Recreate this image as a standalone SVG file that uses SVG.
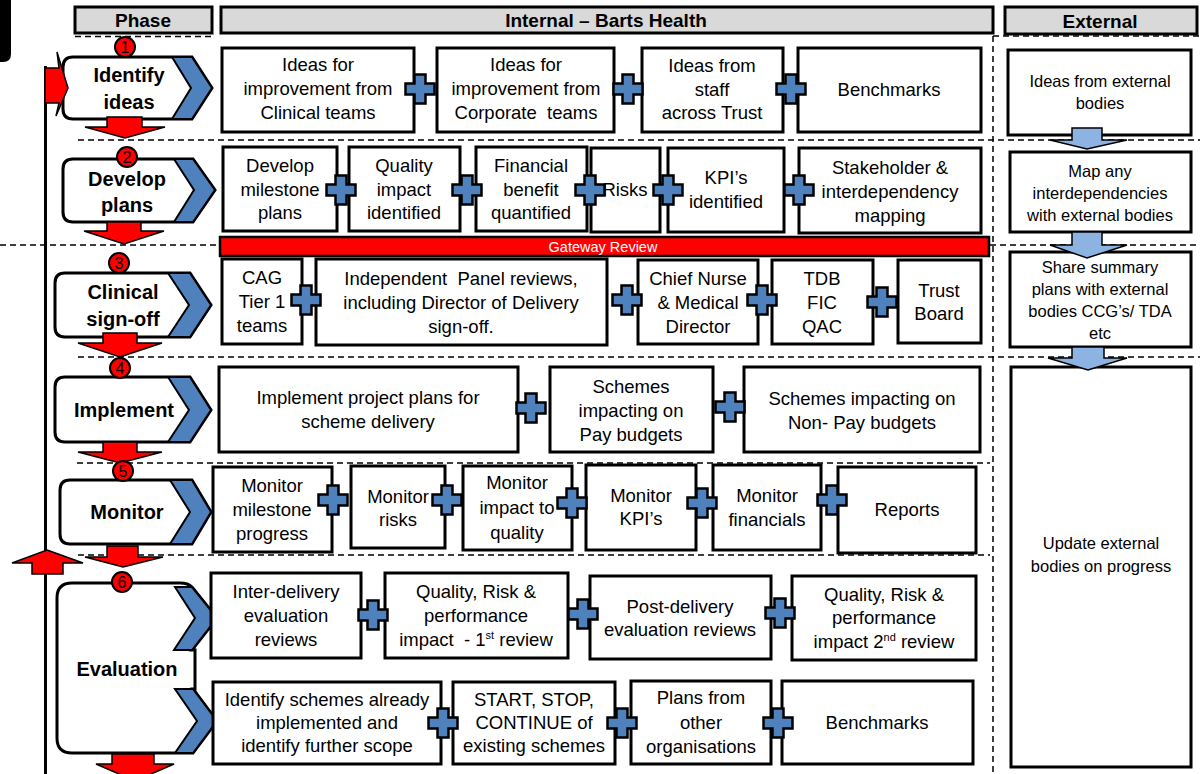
<svg xmlns="http://www.w3.org/2000/svg" width="1200" height="774" viewBox="0 0 1200 774">
<style>
.bg{fill:#fff}
.box{fill:#fff;stroke:#000;stroke-width:3}
.hdr{fill:#d9d9d9;stroke:#000;stroke-width:3}
.t{font-family:"Liberation Sans",Arial,sans-serif;font-size:18.5px;text-anchor:middle;fill:#000;white-space:pre}
.ext{font-size:16.5px}
.ph{font-weight:bold;font-size:20px}
.hd{font-weight:bold;font-size:19px}
.num{font-size:16px}
.gw{font-size:14.5px;fill:#fff}
.dash{stroke:#000;stroke-width:1.5;stroke-dasharray:6 4;fill:none}
.chev{fill:#4f81bd;stroke:#000;stroke-width:2;stroke-linejoin:miter}
.pbox{fill:#fff;stroke:#000;stroke-width:3}
.red{fill:#ff0000;stroke:#000;stroke-width:1.5}
.blue{fill:#8db3e2;stroke:#000;stroke-width:1.5}
.circ{fill:#ff0000;stroke:#000;stroke-width:2}
.sup{font-size:11px}
</style>
<defs>
<path id="plus" d="M-5.5,-14.5 H5.5 V-5.5 H14.5 V5.5 H5.5 V14.5 H-5.5 V5.5 H-14.5 V-5.5 H-5.5 Z" fill="#4f81bd" stroke="#000" stroke-width="2.5"/>
</defs>
<rect class="bg" x="0" y="0" width="1200" height="774"/>
<path d="M0,0 H11 V54 Q11,62 3,62 H0 Z" fill="#000"/>

<g id="grid">
<line class="dash" x1="75" y1="36.5" x2="215" y2="36.5"/>
<line class="dash" x1="993" y1="36" x2="1200" y2="36"/>
<line class="dash" x1="78" y1="140" x2="1200" y2="140"/>
<line class="dash" x1="0" y1="245" x2="1200" y2="245"/>
<line class="dash" x1="78" y1="357" x2="1200" y2="357"/>
<line class="dash" x1="77" y1="463" x2="990" y2="463"/>
<line class="dash" x1="78" y1="555" x2="990" y2="555"/>
<line class="dash" x1="993" y1="36" x2="993" y2="774"/>
<line x1="45.5" y1="66" x2="45.5" y2="774" stroke="#000" stroke-width="3"/>
</g>

<g id="headers">
<rect class="hdr" x="75" y="7" width="137" height="26"/>
<text class="t hd" x="143" y="27">Phase</text>
<rect class="hdr" x="221" y="7" width="772" height="26"/>
<text class="t hd" x="606" y="27">Internal – Barts Health</text>
<rect class="hdr" x="1005" y="7" width="192" height="27"/>
<text class="t hd" x="1100" y="28">External</text>
</g>

<g id="phase-identify">
<path class="pbox" d="M73,57 H192 L212,88 L192,119 H73 Q63,119 63,109 V67 Q63,57 73,57 Z"/>
<path class="chev" d="M172,57 H192 L212,88 L192,119 H172 L191,88 Z"/>
<text class="t ph" x="129" y="82">Identify</text>
<text class="t ph" x="129" y="109">ideas</text>
</g>
<g id="phase-develop">
<path class="pbox" d="M73,159 H193 L215,190 L193,222 H73 Q63,222 63,212 V169 Q63,159 73,159 Z"/>
<path class="chev" d="M174,159 H193 L215,190 L193,222 H174 L194,190 Z"/>
<text class="t ph" x="127" y="186">Develop</text>
<text class="t ph" x="127" y="212">plans</text>
</g>
<g id="phase-clinical">
<path class="pbox" d="M65,273 H190 L211,305 L190,337 H65 Q55,337 55,327 V283 Q55,273 65,273 Z"/>
<path class="chev" d="M168,273 H190 L211,305 L190,337 H168 L189,305 Z"/>
<text class="t ph" x="123" y="299">Clinical</text>
<text class="t ph" x="123" y="326">sign-off</text>
</g>
<g id="phase-implement">
<path class="pbox" d="M65,377 H190 L211,410 L190,442 H65 Q55,442 55,432 V387 Q55,377 65,377 Z"/>
<path class="chev" d="M168,377 H190 L211,410 L190,442 H168 L189,410 Z"/>
<text class="t ph" x="124" y="417">Implement</text>
</g>
<g id="phase-monitor">
<path class="pbox" d="M70,480 H192 L211,512 L192,544 H70 Q60,544 60,534 V490 Q60,480 70,480 Z"/>
<path class="chev" d="M170,480 H192 L211,512 L192,544 H170 L190,512 Z"/>
<text class="t ph" x="127" y="519">Monitor</text>
</g>
<g id="phase-evaluation">
<path class="pbox" d="M72,583 H180 Q188,583 192,587 L217,618 L192,650 H195 V689 H193 L217,721 L193,753 H72 Q57,753 57,738 V598 Q57,583 72,583 Z"/>
<path class="chev" d="M175,587 H192 L217,618 L192,650 H174 L195,618 Z"/>
<path class="chev" d="M175,689 H193 L217,721 L193,753 H175 L197,721 Z"/>
<text class="t ph" x="127" y="676">Evaluation</text>
</g>

<g id="connectors">
<polygon class="red" points="45,68 59,68 57,52 68,88 56,116 59,103 45,103"/>
<polygon class="red" points="47,550 83,563 63,563 63,574 32,574 32,563 12,563"/>
<polygon class="red" points="107,117 142,117 142,127 165,127 125,138 85,127 107,127"/>
<polygon class="red" points="107,222 141,222 141,231 164,231 124,244 84,231 107,231"/>
<polygon class="red" points="103,333 137,333 137,343 162,343 120,357 78,343 103,343"/>
<polygon class="red" points="103,442 137,442 137,452 162,452 120,463 78,452 103,452"/>
<polygon class="red" points="107,546 138,546 138,557 163,557 123,567 85,557 107,557"/>
<polygon class="red" points="112,754 154,754 154,764 174,764 135,781 96,764 112,764"/>
</g>

<g id="steps">
<circle class="circ" cx="125" cy="47" r="10"/><text class="t num" x="125" y="52.5">1</text>
<circle class="circ" cx="127" cy="157" r="10"/><text class="t num" x="127" y="162.5">2</text>
<circle class="circ" cx="119" cy="263" r="10"/><text class="t num" x="119" y="268.5">3</text>
<circle class="circ" cx="120" cy="368" r="10"/><text class="t num" x="120" y="373.5">4</text>
<circle class="circ" cx="123" cy="471" r="10"/><text class="t num" x="123" y="476.5">5</text>
<circle class="circ" cx="122" cy="582" r="10"/><text class="t num" x="122" y="587.5">6</text>
</g>

<g id="n-ideas-clinical"><rect class="box" x="222" y="48" width="192" height="84"/>
<text class="t" x="318" y="71">Ideas for</text><text class="t" x="318" y="95">improvement from</text><text class="t" x="318" y="119">Clinical teams</text></g>
<g id="n-ideas-corporate"><rect class="box" x="437" y="48" width="177" height="84"/>
<text class="t" x="526" y="71">Ideas for</text><text class="t" x="526" y="95">improvement from</text><text class="t" x="526" y="119">Corporate  teams</text></g>
<g id="n-ideas-staff"><rect class="box" x="642" y="48" width="141" height="84"/>
<text class="t" x="712" y="72">Ideas from</text><text class="t" x="712" y="96">staff</text><text class="t" x="712" y="119">across Trust</text></g>
<g id="n-benchmarks1"><rect class="box" x="798" y="48" width="183" height="84"/>
<text class="t" x="889" y="96">Benchmarks</text></g>

<g id="n-milestone"><rect class="box" x="223" y="147" width="114" height="84"/>
<text class="t" x="280" y="172">Develop</text><text class="t" x="280" y="196">milestone</text><text class="t" x="280" y="219">plans</text></g>
<g id="n-quality"><rect class="box" x="349" y="147" width="111" height="84"/>
<text class="t" x="404" y="172">Quality</text><text class="t" x="404" y="196">impact</text><text class="t" x="404" y="219">identified</text></g>
<g id="n-financial"><rect class="box" x="476" y="147" width="111" height="84"/>
<text class="t" x="531" y="172">Financial</text><text class="t" x="531" y="196">benefit</text><text class="t" x="531" y="219">quantified</text></g>
<g id="n-risks"><rect class="box" x="591" y="148" width="69" height="84"/>
<text class="t" x="625" y="196">Risks</text></g>
<g id="n-kpis"><rect class="box" x="668" y="148" width="116" height="84"/>
<text class="t" x="726" y="184">KPI’s</text><text class="t" x="726" y="208">identified</text></g>
<g id="n-stakeholder"><rect class="box" x="799" y="148" width="182" height="85"/>
<text class="t" x="890" y="174">Stakeholder &amp;</text><text class="t" x="890" y="198">interdependency</text><text class="t" x="890" y="222">mapping</text></g>

<g id="n-gateway"><rect x="220" y="237" width="769" height="19" fill="#ff0000" stroke="#000" stroke-width="2.5"/>
<text class="t gw" x="603" y="251.5">Gateway Review</text></g>

<g id="n-cag"><rect class="box" x="222" y="259" width="80" height="85"/>
<text class="t" x="262" y="284">CAG</text><text class="t" x="262" y="308">Tier 1</text><text class="t" x="262" y="332">teams</text></g>
<g id="n-panel"><rect class="box" x="316" y="259" width="291" height="86"/>
<text class="t" x="461" y="285">Independent  Panel reviews,</text><text class="t" x="461" y="309">including Director of Delivery</text><text class="t" x="461" y="333">sign-off.</text></g>
<g id="n-chiefnurse"><rect class="box" x="638" y="260" width="120" height="84"/>
<text class="t" x="698" y="285">Chief Nurse</text><text class="t" x="698" y="309">&amp; Medical</text><text class="t" x="698" y="333">Director</text></g>
<g id="n-tdb"><rect class="box" x="772" y="260" width="101" height="84"/>
<text class="t" x="822" y="285">TDB</text><text class="t" x="822" y="309">FIC</text><text class="t" x="822" y="333">QAC</text></g>
<g id="n-board"><rect class="box" x="898" y="260" width="83" height="83"/>
<text class="t" x="939" y="297">Trust</text><text class="t" x="939" y="320">Board</text></g>

<g id="n-implement"><rect class="box" x="219" y="367" width="299" height="85"/>
<text class="t" x="368" y="404">Implement project plans for</text><text class="t" x="368" y="428">scheme delivery</text></g>
<g id="n-pay"><rect class="box" x="550" y="367" width="163" height="85"/>
<text class="t" x="631" y="393">Schemes</text><text class="t" x="631" y="417">impacting on</text><text class="t" x="631" y="441">Pay budgets</text></g>
<g id="n-nonpay"><rect class="box" x="744" y="367" width="236" height="85"/>
<text class="t" x="862" y="405">Schemes impacting on</text><text class="t" x="862" y="429">Non- Pay budgets</text></g>

<g id="n-mon-milestone"><rect class="box" x="213" y="467" width="119" height="85"/>
<text class="t" x="272" y="492">Monitor</text><text class="t" x="272" y="516">milestone</text><text class="t" x="272" y="540">progress</text></g>
<g id="n-mon-risks"><rect class="box" x="351" y="466" width="94" height="82"/>
<text class="t" x="398" y="503">Monitor</text><text class="t" x="398" y="526">risks</text></g>
<g id="n-mon-quality"><rect class="box" x="463" y="466" width="109" height="84"/>
<text class="t" x="517" y="489">Monitor</text><text class="t" x="517" y="514">impact to</text><text class="t" x="517" y="539">quality</text></g>
<g id="n-mon-kpis"><rect class="box" x="586" y="465" width="110" height="85"/>
<text class="t" x="641" y="502">Monitor</text><text class="t" x="641" y="525">KPI’s</text></g>
<g id="n-mon-fin"><rect class="box" x="713" y="465" width="108" height="85"/>
<text class="t" x="767" y="502">Monitor</text><text class="t" x="767" y="526">financials</text></g>
<g id="n-reports"><rect class="box" x="838" y="467" width="138" height="86"/>
<text class="t" x="907" y="516">Reports</text></g>

<g id="n-interdelivery"><rect class="box" x="211" y="573" width="150" height="85"/>
<text class="t" x="286" y="598">Inter-delivery</text><text class="t" x="286" y="622">evaluation</text><text class="t" x="286" y="646">reviews</text></g>
<g id="n-qrp1"><rect class="box" x="385" y="573" width="183" height="85"/>
<text class="t" x="476" y="598">Quality, Risk &amp;</text><text class="t" x="476" y="622">performance</text><text class="t" x="476" y="646">impact  - 1<tspan class="sup" dy="-7">st</tspan><tspan dy="7"> review</tspan></text></g>
<g id="n-postdelivery"><rect class="box" x="590" y="576" width="181" height="83"/>
<text class="t" x="680" y="613">Post-delivery</text><text class="t" x="680" y="636">evaluation reviews</text></g>
<g id="n-qrp2"><rect class="box" x="792" y="576" width="184" height="84"/>
<text class="t" x="884" y="601">Quality, Risk &amp;</text><text class="t" x="884" y="624">performance</text><text class="t" x="884" y="648">impact 2<tspan class="sup" dy="-7">nd</tspan><tspan dy="7"> review</tspan></text></g>

<g id="n-identify-schemes"><rect class="box" x="213" y="682" width="228" height="82"/>
<text class="t" x="327" y="706">Identify schemes already</text><text class="t" x="327" y="729">implemented and</text><text class="t" x="327" y="752">identify further scope</text></g>
<g id="n-startstop"><rect class="box" x="453" y="682" width="162" height="82"/>
<text class="t" x="534" y="706">START, STOP,</text><text class="t" x="534" y="729">CONTINUE of</text><text class="t" x="534" y="752">existing schemes</text></g>
<g id="n-plans-other"><rect class="box" x="631" y="681" width="140" height="83"/>
<text class="t" x="701" y="704">Plans from</text><text class="t" x="701" y="729">other</text><text class="t" x="701" y="753">organisations</text></g>
<g id="n-benchmarks2"><rect class="box" x="782" y="681" width="191" height="83"/>
<text class="t" x="877" y="729">Benchmarks</text></g>

<g id="n-ext-ideas"><rect class="box" x="1008" y="50" width="183" height="85"/>
<text class="t ext" x="1100" y="87">Ideas from external</text><text class="t ext" x="1100" y="109">bodies</text></g>
<g id="n-ext-map"><rect class="box" x="1010" y="152" width="181" height="80"/>
<text class="t ext" x="1100" y="177">Map any</text><text class="t ext" x="1100" y="199">interdependencies</text><text class="t ext" x="1100" y="221">with external bodies</text></g>
<g id="n-ext-share"><rect class="box" x="1010" y="252" width="181" height="95"/>
<text class="t ext" x="1100" y="273">Share summary</text><text class="t ext" x="1100" y="295">plans with external</text><text class="t ext" x="1100" y="317">bodies CCG’s/ TDA</text><text class="t ext" x="1100" y="339">etc</text></g>
<g id="n-ext-update"><rect class="box" x="1011" y="367" width="180" height="400"/>
<text class="t ext" x="1101" y="549">Update external</text><text class="t ext" x="1101" y="572">bodies on progress</text></g>

<g id="links">
<use href="#plus" x="420" y="89"/><use href="#plus" x="628" y="89"/><use href="#plus" x="791" y="89"/>
<use href="#plus" x="341" y="190"/><use href="#plus" x="467" y="190"/><use href="#plus" x="590" y="190"/><use href="#plus" x="668" y="190"/><use href="#plus" x="799" y="190"/>
<use href="#plus" x="306" y="300"/><use href="#plus" x="627" y="300"/><use href="#plus" x="762" y="300"/><use href="#plus" x="882" y="302"/>
<use href="#plus" x="531" y="408"/><use href="#plus" x="730" y="407"/>
<use href="#plus" x="333" y="500"/><use href="#plus" x="447" y="500"/><use href="#plus" x="572" y="503"/><use href="#plus" x="702" y="503"/><use href="#plus" x="832" y="500"/>
<use href="#plus" x="373" y="615"/><use href="#plus" x="583" y="614"/><use href="#plus" x="780" y="613"/>
<use href="#plus" x="443" y="723"/><use href="#plus" x="622" y="723"/><use href="#plus" x="778" y="723"/>
<polygon class="blue" points="1072,128 1102,128 1102,140 1127,140 1087,149 1050,140 1072,140"/>
<polygon class="blue" points="1072,232 1102,232 1102,245 1127,245 1087,258 1050,245 1072,245"/>
<polygon class="blue" points="1072,347 1104,347 1104,358 1127,358 1088,370 1048,358 1072,358"/>
</g>
</svg>
